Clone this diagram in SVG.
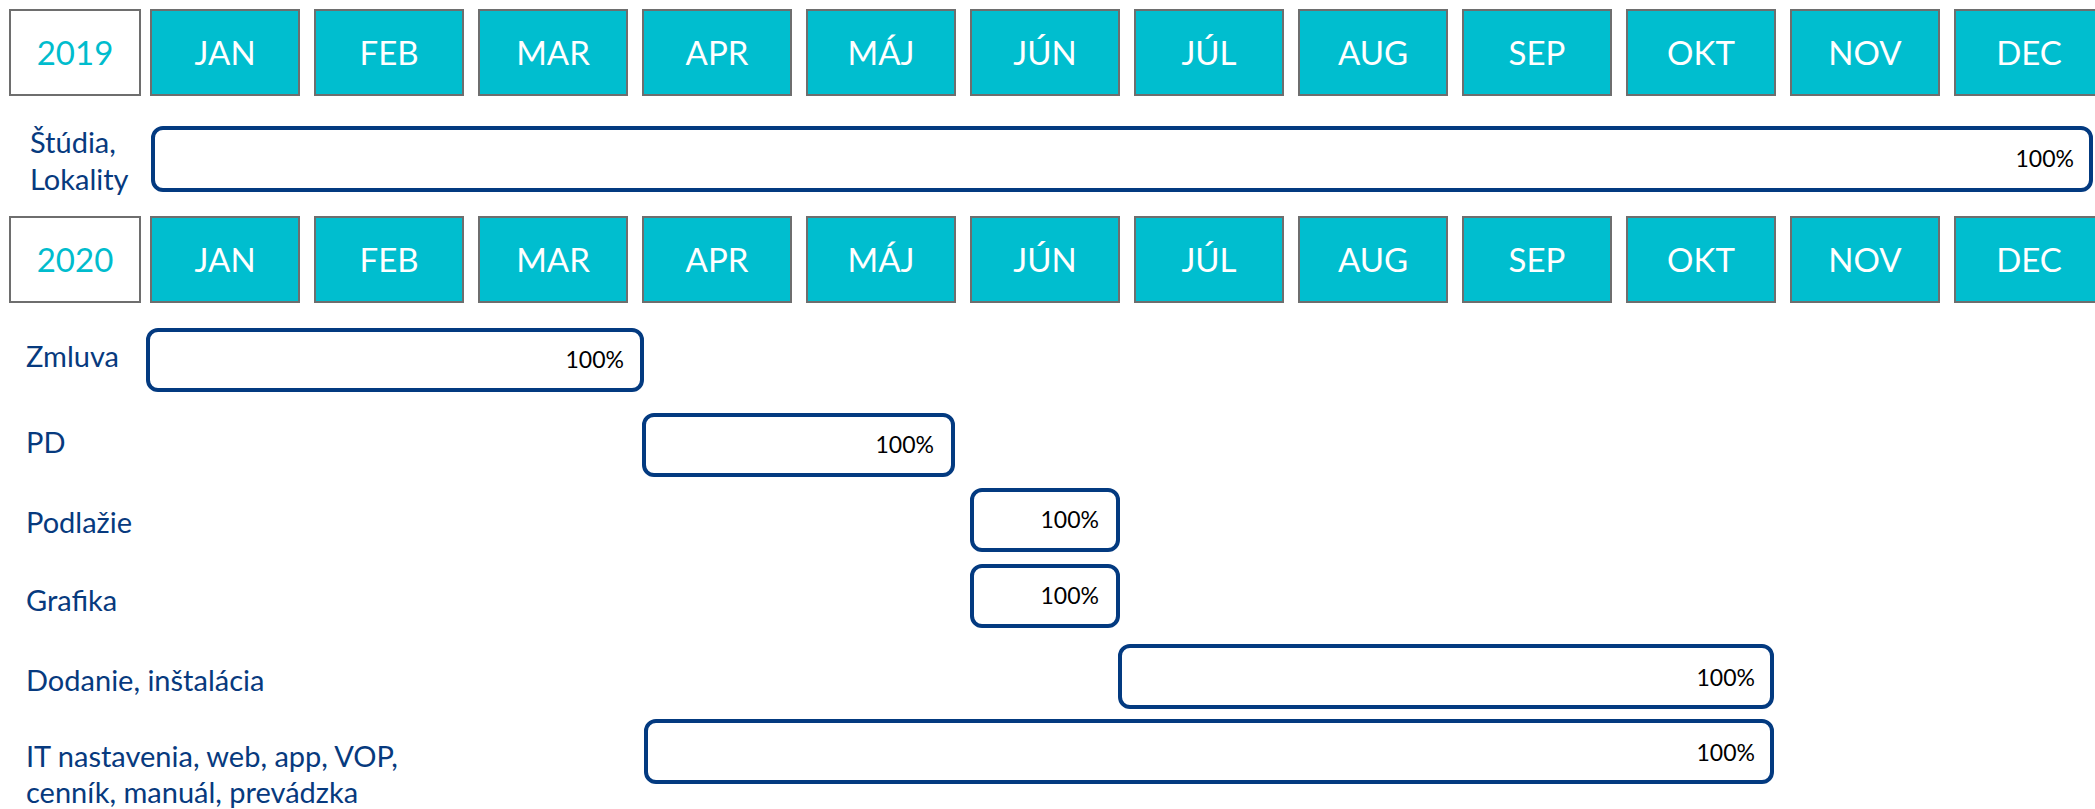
<svg xmlns="http://www.w3.org/2000/svg" width="2095" height="809" viewBox="0 0 2095 809">
<style>
.yr{fill:#ffffff;stroke:#6e6e6e;stroke-width:2}
.yt{font-family:Lato,"Noto Sans",sans-serif;font-size:33px;fill:#00bccd;text-anchor:middle}
.mo{fill:#00becf;stroke:#6e6e6e;stroke-width:2}
.mt{font-family:Lato,"Noto Sans",sans-serif;font-size:33px;fill:#ffffff;text-anchor:middle}
.bar{fill:#ffffff;stroke:#033a80;stroke-width:4}
.pct{font-family:Lato,"Noto Sans",sans-serif;font-size:23px;fill:#000000;text-anchor:end}
.lbl{font-family:Lato,"Noto Sans",sans-serif;font-size:29px;fill:#073a7e}
</style>
<rect width="2095" height="809" fill="#ffffff"/>
<g id="row2019">
<rect class="yr" x="10" y="10" width="130" height="85"/><text class="yt" x="75" y="65">2019</text>
<rect class="mo" x="151" y="10" width="148" height="85"/><text class="mt" x="225" y="65">JAN</text>
<rect class="mo" x="315" y="10" width="148" height="85"/><text class="mt" x="389" y="65">FEB</text>
<rect class="mo" x="479" y="10" width="148" height="85"/><text class="mt" x="553" y="65">MAR</text>
<rect class="mo" x="643" y="10" width="148" height="85"/><text class="mt" x="717" y="65">APR</text>
<rect class="mo" x="807" y="10" width="148" height="85"/><text class="mt" x="881" y="65">MÁJ</text>
<rect class="mo" x="971" y="10" width="148" height="85"/><text class="mt" x="1045" y="65">JÚN</text>
<rect class="mo" x="1135" y="10" width="148" height="85"/><text class="mt" x="1209" y="65">JÚL</text>
<rect class="mo" x="1299" y="10" width="148" height="85"/><text class="mt" x="1373" y="65">AUG</text>
<rect class="mo" x="1463" y="10" width="148" height="85"/><text class="mt" x="1537" y="65">SEP</text>
<rect class="mo" x="1627" y="10" width="148" height="85"/><text class="mt" x="1701" y="65">OKT</text>
<rect class="mo" x="1791" y="10" width="148" height="85"/><text class="mt" x="1865" y="65">NOV</text>
<rect class="mo" x="1955" y="10" width="148" height="85"/><text class="mt" x="2029" y="65">DEC</text>
</g>
<g id="studia">
<text class="lbl" x="30" y="153">Štúdia,</text>
<text class="lbl" x="30" y="190">Lokality</text>
<rect class="bar" x="153" y="128" width="1938" height="62" rx="10"/>
<text class="pct" x="2074" y="167">100%</text>
</g>
<g id="row2020">
<rect class="yr" x="10" y="217" width="130" height="85"/><text class="yt" x="75" y="272">2020</text>
<rect class="mo" x="151" y="217" width="148" height="85"/><text class="mt" x="225" y="272">JAN</text>
<rect class="mo" x="315" y="217" width="148" height="85"/><text class="mt" x="389" y="272">FEB</text>
<rect class="mo" x="479" y="217" width="148" height="85"/><text class="mt" x="553" y="272">MAR</text>
<rect class="mo" x="643" y="217" width="148" height="85"/><text class="mt" x="717" y="272">APR</text>
<rect class="mo" x="807" y="217" width="148" height="85"/><text class="mt" x="881" y="272">MÁJ</text>
<rect class="mo" x="971" y="217" width="148" height="85"/><text class="mt" x="1045" y="272">JÚN</text>
<rect class="mo" x="1135" y="217" width="148" height="85"/><text class="mt" x="1209" y="272">JÚL</text>
<rect class="mo" x="1299" y="217" width="148" height="85"/><text class="mt" x="1373" y="272">AUG</text>
<rect class="mo" x="1463" y="217" width="148" height="85"/><text class="mt" x="1537" y="272">SEP</text>
<rect class="mo" x="1627" y="217" width="148" height="85"/><text class="mt" x="1701" y="272">OKT</text>
<rect class="mo" x="1791" y="217" width="148" height="85"/><text class="mt" x="1865" y="272">NOV</text>
<rect class="mo" x="1955" y="217" width="148" height="85"/><text class="mt" x="2029" y="272">DEC</text>
</g>
<g id="zmluva">
<text class="lbl" x="26" y="367">Zmluva</text>
<rect class="bar" x="148" y="330" width="494" height="60" rx="10"/>
<text class="pct" x="624" y="368">100%</text>
</g>
<g id="pd">
<text class="lbl" x="26" y="453">PD</text>
<rect class="bar" x="644" y="415" width="309" height="60" rx="10"/>
<text class="pct" x="934" y="453">100%</text>
</g>
<g id="podlazie">
<text class="lbl" x="26" y="533">Podlažie</text>
<rect class="bar" x="972" y="490" width="146" height="60" rx="10"/>
<text class="pct" x="1099" y="528">100%</text>
</g>
<g id="grafika">
<text class="lbl" x="26" y="611">Grafika</text>
<rect class="bar" x="972" y="566" width="146" height="60" rx="10"/>
<text class="pct" x="1099" y="604">100%</text>
</g>
<g id="dodanie">
<text class="lbl" x="26" y="691">Dodanie, inštalácia</text>
<rect class="bar" x="1120" y="646" width="652" height="61" rx="10"/>
<text class="pct" x="1755" y="686">100%</text>
</g>
<g id="it">
<text class="lbl" x="26" y="767">IT nastavenia, web, app, VOP,</text>
<text class="lbl" x="26" y="803">cenník, manuál, prevádzka</text>
<rect class="bar" x="646" y="721" width="1126" height="61" rx="10"/>
<text class="pct" x="1755" y="761">100%</text>
</g>
<g id="connectors"/>
</svg>
